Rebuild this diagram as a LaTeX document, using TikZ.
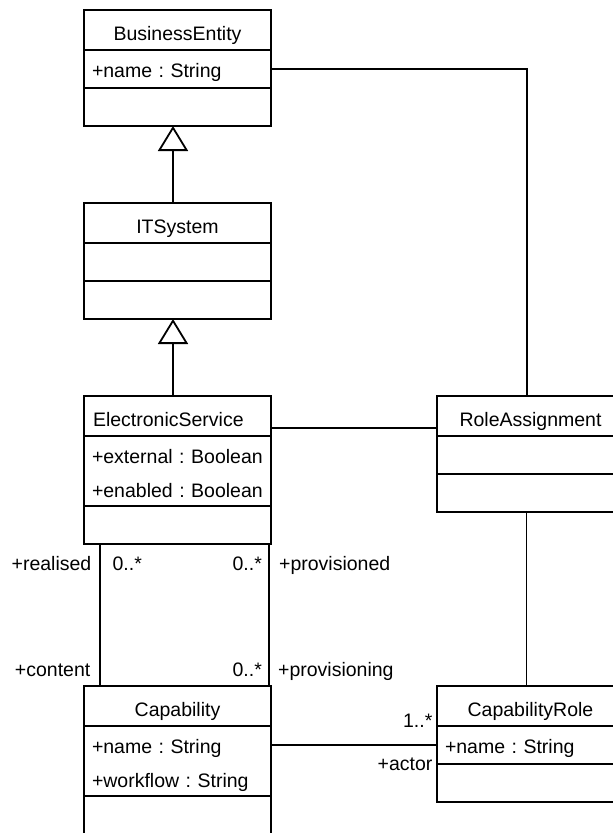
\documentclass[tikz,border=0pt]{standalone}
\usepackage{fontspec}
\setmainfont{Liberation Sans}
\usepackage{tikz}
\usetikzlibrary{shapes,arrows.meta}
\usetikzlibrary{positioning}
\tikzstyle{compart} = [rectangle, draw, line width=2.2pt, outer sep=0pt,
    inner xsep=8pt, inner ysep=0pt, text width=171pt, minimum height=38pt,
    font=\fontsize{19.5}{34}\selectfont\frenchspacing]
\tikzstyle{classname} = [compart, align=center, minimum height=40pt,
    text height=25pt, text depth=5pt]
\tikzstyle{attr} = [compart, align=left, text height=21pt, text depth=5pt]
\tikzstyle{attrs} = [compart, align=left, minimum height=70pt,
    text height=22pt, text depth=38pt]
\tikzstyle{ops} = [compart]
\tikzstyle{role} = [inner sep=0pt, font=\fontsize{19.5}{24}\selectfont]
\tikzstyle{generalize} = [line width=1.8pt,
    -{Triangle[open, length=25pt, width=30pt]}]
\tikzstyle{assoc} = [line width=2pt]
\tikzstyle{assocthin} = [line width=1.3pt]

\begin{document}
\begin{tikzpicture}[x=1pt,y=1pt]
  \path[use as bounding box, clip] (0,0) rectangle (613,-833);
  % Place classes
  \node [classname] at (177.5,-30) (behead) {BusinessEntity};
  \node [attr, below of=behead, node distance=39pt] (beattr) {+name : String};
  \node [ops, below of=beattr, node distance=38pt] (beops) {};
  \node [classname, below of=behead, node distance=193pt] (ithead) {ITSystem};
  \node [attr, below of=ithead, node distance=39pt] (itattr) {};
  \node [ops, below of=itattr, node distance=38pt] (itops) {};
  \node [classname, below of=ithead, node distance=193pt, align=left,
    inner xsep=9pt, text width=169pt] (eshead) {ElectronicService};
  \node [attrs, below of=eshead, node distance=55pt] (esattr)
  {\mbox{+external : Boolean}\\\mbox{+enabled : Boolean}};
  \node [ops, below of=esattr, node distance=54pt] (esops) {};
  \node [classname, below of=eshead, node distance=290pt] (caphead) {Capability};
  \node [attrs, below of=caphead, node distance=55pt] (capattr)
  {+name : String\\+workflow : String};
  \node [ops, below of=capattr, node distance=54pt] (capops) {};
  \node [classname, right of=eshead, node distance=353pt, align=center,
    inner xsep=8pt, text width=171pt] (rahead) {RoleAssignment};
  \node [attr, below of=rahead, node distance=39pt] (raattr) {};
  \node [ops, below of=raattr, node distance=38pt] (raops) {};
  \node [classname, below of=rahead, node distance=290pt] (crhead) {CapabilityRole};
  \node [attr, below of=crhead, node distance=39pt] (crattr) {+name : String};
  \node [ops, below of=crattr, node distance=38pt] (crops) {};
  % Draw edges
  \draw [generalize] ([xshift=-4.5pt]ithead.north) -- ([xshift=-4.5pt]beops.south);
  \draw [generalize] ([xshift=-4.5pt]eshead.north) -- ([xshift=-4.5pt]itops.south);
  \draw [assoc] (beattr.east) -| ([xshift=-4pt]rahead.north);
  \draw [assoc] ([yshift=-12pt]eshead.east) -- ([yshift=-12pt]rahead.west);
  \draw [assocthin] ([xshift=-4pt]raops.south) -- ([xshift=-4pt]crhead.north);
  \draw [assocthin] ([xshift=16pt]esops.south west)
    -- node[role, pos=0.19, anchor=base east, xshift=-8pt] (realised) {+realised}
       node[role, pos=0.19, anchor=base west, xshift=12pt] (mrealised) {0..*}
       node[role, pos=0.93, anchor=base east, xshift=-9pt] (content) {+content}
    ([xshift=16pt]caphead.north west);
  \draw [assoc, line width=2.3pt] ([xshift=-2pt]esops.south east)
    -- node[role, pos=0.19, anchor=base east, xshift=-6pt] (mprovd) {0..*}
       node[role, pos=0.19, anchor=base west, xshift=9pt] (provd) {+provisioned}
       node[role, pos=0.93, anchor=base east, xshift=-6pt] (mprovg) {0..*}
       node[role, pos=0.93, anchor=base west, xshift=8pt] (provg) {+provisioning}
    ([xshift=-2pt]caphead.north east);
  \draw [assocthin] (crattr.west)
    -- node[role, pos=0, anchor=base east, xshift=-4pt, yshift=18pt] (mactor) {1..*}
       node[role, pos=0, anchor=base east, xshift=-4pt, yshift=-25pt] (actor) {+actor}
    (crattr.west -| capattr.east);
\end{tikzpicture}
\end{document}
